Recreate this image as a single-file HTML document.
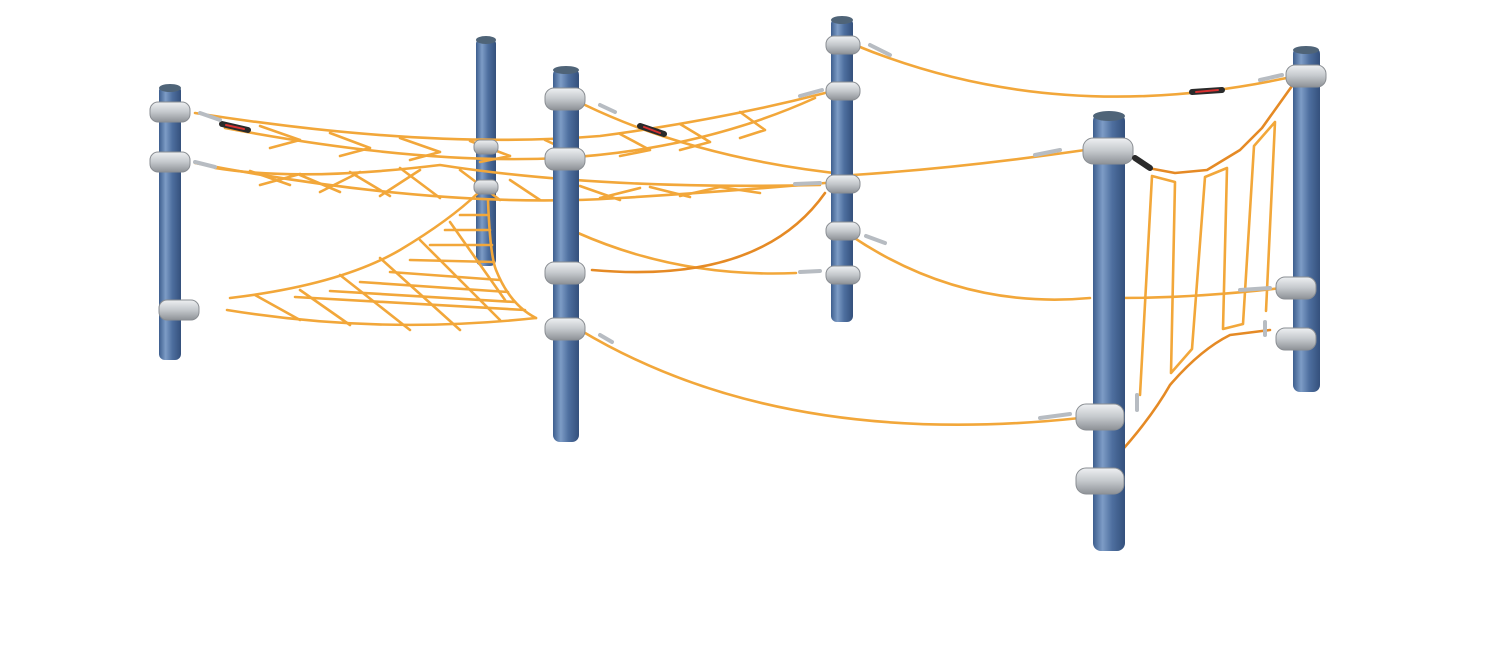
<!DOCTYPE html>
<html><head><meta charset="utf-8"><style>
html,body{margin:0;padding:0;background:#fff;}
svg{display:block}
</style></head><body>
<svg width="1486" height="663" viewBox="0 0 1486 663" xmlns="http://www.w3.org/2000/svg">
<defs>
<linearGradient id="pg" x1="0" x2="1" y1="0" y2="0">
<stop offset="0" stop-color="#3d5e8e"/><stop offset="0.3" stop-color="#7d9cc6"/><stop offset="0.6" stop-color="#4e6f9f"/><stop offset="1" stop-color="#34507c"/>
</linearGradient>
<linearGradient id="cg" x1="0" x2="0" y1="0" y2="1">
<stop offset="0" stop-color="#eef0f2"/><stop offset="0.5" stop-color="#c4c8cc"/><stop offset="1" stop-color="#8e9297"/>
</linearGradient>
</defs>
<g fill="none" stroke-linecap="round" stroke-linejoin="round">
<!-- back post 2 -->
<rect x="476" y="38" width="20" height="228" rx="6" fill="url(#pg)"/>
<ellipse cx="486" cy="40" rx="10" ry="4" fill="#4f6478"/>
<!-- upper net -->
<g stroke="#f2a73a" stroke-width="2.6">
<path d="M195 113 Q430 150 600 136 Q720 120 825 93"/>
<path d="M225 128 Q420 165 560 158 Q700 150 815 98"/>
<path d="M260 126 L300 140 M300 140 L270 148 M330 133 L370 148 M370 148 L340 156 M400 138 L440 152 M440 152 L410 160 M470 141 L510 156 M510 156 L480 162 M545 140 L580 156 M620 134 L650 150 M650 150 L620 156 M680 124 L710 142 M710 142 L680 150 M740 112 L765 130 M765 130 L740 138"/>
<!-- second net -->
<path d="M195 163 Q440 210 620 198 Q720 192 825 183"/>
<path d="M215 168 Q300 182 440 165 M440 165 Q600 190 820 185"/>
<path d="M250 171 L290 185 M300 175 L340 192 M350 172 L390 196 M400 168 L440 198 M460 170 L500 200 M510 180 L540 200 M580 186 L620 200 M650 187 L690 197 M720 187 L760 193"/>
<path d="M260 185 L300 174 M320 192 L360 172 M380 196 L420 170 M600 198 L640 188 M680 196 L720 187"/>
</g>
<!-- lower net -->
<g stroke="#f2a73a" stroke-width="2.6">
<path d="M230 298 Q340 285 400 250 Q450 220 478 193"/>
<path d="M488 200 Q490 255 496 270 Q510 305 536 318"/>
<path d="M227 310 Q380 335 536 318"/>
<path d="M460 215 L488 215 M445 230 L490 230 M430 245 L492 245 M410 260 L494 262 M390 272 L500 280 M360 282 L508 292 M330 291 L515 302 M295 297 L525 310"/>
<path d="M255 295 L300 320 M300 290 L350 325 M340 275 L410 330 M380 258 L460 330 M420 240 L500 320 M450 222 L505 300"/>
</g>
<g stroke="#f2a73a" stroke-width="2.6">
<path d="M585 105 Q700 160 853 175 Q960 168 1085 150"/>
<path d="M578 233 Q680 278 796 273"/>
<path d="M580 330 Q780 450 1080 418"/>
<path d="M855 45 Q1060 130 1300 75"/>
<path d="M850 235 Q960 310 1090 298"/>
<path d="M1120 298 Q1200 298 1290 287"/>
<path d="M1152 176 L1140 395 M1152 176 L1175 182 L1171 373 L1192 349 L1205 177 L1227 168 L1223 329 L1243 324 L1254 146 L1275 122 L1266 311"/>
</g>
<g stroke="#e58a25" stroke-width="2.6">
<path d="M592 270 Q760 285 825 193"/>
<path d="M1148 168 L1175 173 L1207 170 L1240 150 L1262 128 L1292 86"/>
<path d="M1115 458 Q1150 420 1170 385 Q1200 350 1230 335 L1270 330"/>
</g>
<!-- posts -->
<rect x="159" y="85" width="22" height="275" rx="6" fill="url(#pg)"/>
<rect x="553" y="68" width="26" height="374" rx="7" fill="url(#pg)"/>
<rect x="831" y="18" width="22" height="304" rx="6" fill="url(#pg)"/>
<rect x="1093" y="113" width="32" height="438" rx="8" fill="url(#pg)"/>
<rect x="1293" y="47" width="27" height="345" rx="7" fill="url(#pg)"/>
<ellipse cx="170" cy="88" rx="11" ry="4" fill="#4f6478"/>
<ellipse cx="566" cy="70" rx="13" ry="4" fill="#4f6478"/>
<ellipse cx="842" cy="20" rx="11" ry="4" fill="#4f6478"/>
<ellipse cx="1109" cy="116" rx="16" ry="5" fill="#4f6478"/>
<ellipse cx="1306" cy="50" rx="13" ry="4" fill="#4f6478"/>
<!-- clamps -->
<g fill="url(#cg)" stroke="#8a8e93" stroke-width="1">
<rect x="150" y="102" width="40" height="20" rx="8"/>
<rect x="150" y="152" width="40" height="20" rx="8"/>
<rect x="159" y="300" width="40" height="20" rx="8"/>
<rect x="474" y="140" width="24" height="14" rx="6"/>
<rect x="474" y="180" width="24" height="14" rx="6"/>
<rect x="545" y="88" width="40" height="22" rx="9"/>
<rect x="545" y="148" width="40" height="22" rx="9"/>
<rect x="545" y="262" width="40" height="22" rx="9"/>
<rect x="545" y="318" width="40" height="22" rx="9"/>
<rect x="826" y="36" width="34" height="18" rx="8"/>
<rect x="826" y="82" width="34" height="18" rx="8"/>
<rect x="826" y="175" width="34" height="18" rx="8"/>
<rect x="826" y="222" width="34" height="18" rx="8"/>
<rect x="826" y="266" width="34" height="18" rx="8"/>
<rect x="1083" y="138" width="50" height="26" rx="10"/>
<rect x="1076" y="404" width="48" height="26" rx="10"/>
<rect x="1076" y="468" width="48" height="26" rx="10"/>
<rect x="1286" y="65" width="40" height="22" rx="9"/>
<rect x="1276" y="277" width="40" height="22" rx="9"/>
<rect x="1276" y="328" width="40" height="22" rx="9"/>
</g>
<!-- tensioners -->
<g stroke="#2a2a2a" stroke-width="6">
<path d="M222 124 L248 130"/><path d="M640 126 L664 134"/><path d="M1192 92 L1222 90"/><path d="M1135 158 L1150 168"/>
</g>
<g stroke="#d83030" stroke-width="2">
<path d="M226 125 L244 129"/><path d="M644 127 L660 133"/><path d="M1196 92 L1218 90"/>
</g>
<g stroke="#b7bcc2" stroke-width="4">
<path d="M200 113 L220 120"/><path d="M195 162 L215 167"/><path d="M600 105 L615 112"/><path d="M800 96 L822 90"/><path d="M795 184 L820 183"/><path d="M870 45 L890 55"/><path d="M1260 80 L1282 75"/><path d="M1035 155 L1060 150"/><path d="M1040 418 L1070 414"/><path d="M600 335 L612 342"/><path d="M866 236 L885 243"/><path d="M800 272 L820 271"/><path d="M1240 290 L1270 288"/><path d="M1137 395 L1137 410"/><path d="M1265 322 L1265 335"/>
</g>
</g>
</svg>
</body></html>
